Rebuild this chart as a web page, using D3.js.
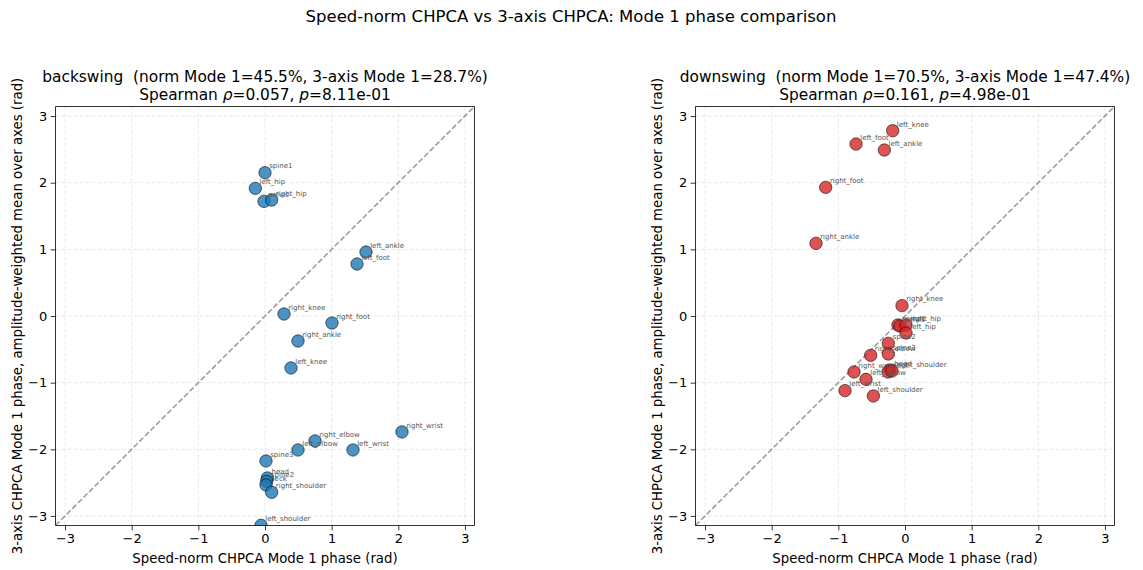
<!DOCTYPE html>
<html>
<head>
<meta charset="utf-8">
<script src="https://cdn.jsdelivr.net/npm/d3@7"></script>
<style>
  html, body { margin: 0; padding: 0; background: #fff; }
  svg { font-family: "DejaVu Sans", sans-serif; }
  .pre { white-space: pre; }
</style>
</head>
<body>
<svg id="chart" width="1143" height="570"></svg>
<script>
const suptitle = "Speed-norm CHPCA vs 3-axis CHPCA: Mode 1 phase comparison";
const xLabel = "Speed-norm CHPCA Mode 1 phase (rad)";
const yLabel = "3-axis CHPCA Mode 1 phase, amplitude-weighted mean over axes (rad)";
const ticks = [-3, -2, -1, 0, 1, 2, 3];
const tickLabels = ["\u22123", "\u22122", "\u22121", "0", "1", "2", "3"];

// backswing
const backTitle = "backswing  (norm Mode 1=45.5%, 3-axis Mode 1=28.7%)";
const backRho = "0.057", backP = "8.11e-01";
const backJoints = ["spine1","left_hip","pelvis","right_hip","left_ankle","left_foot","right_knee","right_foot","right_ankle","left_knee","right_wrist","right_elbow","left_elbow","left_wrist","spine3","head","spine2","neck","right_shoulder","left_shoulder"];
const backNorm  = [0.00,-0.145,-0.015,0.10,1.515,1.38,0.285,1.005,0.495,0.39,2.055,0.75,0.495,1.32,0.015,0.035,0.025,0.015,0.10,-0.06];
const back3axis = [2.15,1.915,1.72,1.74,0.96,0.78,0.03,-0.105,-0.375,-0.78,-1.74,-1.875,-2.01,-2.01,-2.175,-2.43,-2.48,-2.535,-2.645,-3.14];

// downswing
const downTitle = "downswing  (norm Mode 1=70.5%, 3-axis Mode 1=47.4%)";
const downRho = "0.161", downP = "4.98e-01";
const downJoints = ["left_knee","left_foot","left_ankle","right_foot","right_ankle","right_knee","spine1","pelvis","right_hip","left_hip","spine2","spine3","right_elbow","head","neck","right_shoulder","right_wrist","left_elbow","left_wrist","left_shoulder"];
const downNorm  = [-0.185,-0.735,-0.31,-1.19,-1.335,-0.045,-0.105,-0.075,0.015,0.015,-0.25,-0.25,-0.515,-0.225,-0.255,-0.195,-0.765,-0.585,-0.90,-0.475];
const down3axis = [2.78,2.58,2.49,1.93,1.09,0.155,-0.135,-0.15,-0.135,-0.255,-0.41,-0.57,-0.59,-0.81,-0.84,-0.825,-0.84,-0.95,-1.12,-1.20];

const svg = d3.select("#chart");
const PI = Math.PI;
const size = 418.8, topY = 106.6;

svg.append("text").attr("x", 571).attr("y", 22).attr("text-anchor", "middle")
  .attr("font-size", 16.5).attr("fill", "#000").text(suptitle);

function panel(id, left, title, rho, p, joints, xs, ys, color) {
  const x = d3.scaleLinear().domain([-PI, PI]).range([left, left + size]);
  const y = d3.scaleLinear().domain([-PI, PI]).range([topY + size, topY]);
  const g = svg.append("g");
  const cx = left + size / 2;

  g.append("clipPath").attr("id", "clip" + id).append("rect")
    .attr("x", left).attr("y", topY).attr("width", size).attr("height", size);

  // grid
  const grid = g.append("g");
  ticks.forEach(t => {
    grid.append("line").attr("x1", x(t)).attr("x2", x(t)).attr("y1", topY).attr("y2", topY + size)
      .attr("stroke", "#b0b0b0").attr("stroke-opacity", 0.35).attr("stroke-width", 0.8).attr("stroke-dasharray", "4,2");
    grid.append("line").attr("y1", y(t)).attr("y2", y(t)).attr("x1", left).attr("x2", left + size)
      .attr("stroke", "#b0b0b0").attr("stroke-opacity", 0.35).attr("stroke-width", 0.8).attr("stroke-dasharray", "4,2");
  });

  // diagonal
  g.append("line").attr("x1", x(-PI)).attr("y1", y(-PI)).attr("x2", x(PI)).attr("y2", y(PI))
    .attr("stroke", "#808080").attr("stroke-opacity", 0.8).attr("stroke-width", 1.5)
    .attr("stroke-dasharray", "5.5,2.4").attr("clip-path", `url(#clip${id})`);

  // points
  const pts = g.append("g").attr("clip-path", `url(#clip${id})`);
  joints.forEach((j, i) => {
    pts.append("circle").attr("cx", x(xs[i])).attr("cy", y(ys[i])).attr("r", 6.2)
      .attr("fill", color).attr("fill-opacity", 0.8)
      .attr("stroke", "#000").attr("stroke-opacity", 0.8).attr("stroke-width", 0.7);
  });
  const lbl = g.append("g");
  joints.forEach((j, i) => {
    lbl.append("text").attr("x", x(xs[i]) + 4.2).attr("y", y(ys[i]) - 4.2)
      .attr("font-size", 7).attr("fill", "#555").text(j);
  });

  // axes
  const xAxis = d3.axisBottom(x).tickValues(ticks).tickFormat((d, i) => tickLabels[i]).tickSize(4.9).tickPadding(3.5);
  const yAxis = d3.axisLeft(y).tickValues(ticks).tickFormat((d, i) => tickLabels[i]).tickSize(4.9).tickPadding(3.5);
  const gx = g.append("g").attr("transform", `translate(0,${topY + size})`).call(xAxis);
  const gy = g.append("g").attr("transform", `translate(${left},0)`).call(yAxis);
  [gx, gy].forEach(a => {
    a.select(".domain").remove();
    a.selectAll("text").attr("font-size", 13).attr("fill", "#000").attr("font-family", "DejaVu Sans");
    a.selectAll("line").attr("stroke", "#000").attr("stroke-width", 0.8);
  });
  g.append("rect").attr("x", left).attr("y", topY).attr("width", size).attr("height", size)
    .attr("fill", "none").attr("stroke", "#000").attr("stroke-width", 0.8);

  // titles
  g.append("text").attr("class", "pre").attr("x", cx).attr("y", 82).attr("text-anchor", "middle")
    .attr("font-size", 15.4).attr("fill", "#000").text(title);
  const t2 = g.append("text").attr("class", "pre").attr("x", cx).attr("y", 100).attr("text-anchor", "middle")
    .attr("font-size", 15.4).attr("fill", "#000");
  t2.append("tspan").text("Spearman ");
  t2.append("tspan").attr("font-style", "italic").text("\u03C1");
  t2.append("tspan").text("=" + rho + ", ");
  t2.append("tspan").attr("font-style", "italic").text("p");
  t2.append("tspan").text("=" + p);

  // axis labels
  g.append("text").attr("x", cx).attr("y", topY + size + 38).attr("text-anchor", "middle")
    .attr("font-size", 13.3).attr("fill", "#000").text(xLabel);
  g.append("text").attr("transform", `translate(${left - 34},${topY + size / 2}) rotate(-90)`)
    .attr("text-anchor", "middle").attr("font-size", 13.3).attr("fill", "#000").text(yLabel);
}

panel("a", 55.6, backTitle, backRho, backP, backJoints, backNorm, back3axis, "#1f77b4");
panel("b", 695.6, downTitle, downRho, downP, downJoints, downNorm, down3axis, "#d62728");
</script>
</body>
</html>
